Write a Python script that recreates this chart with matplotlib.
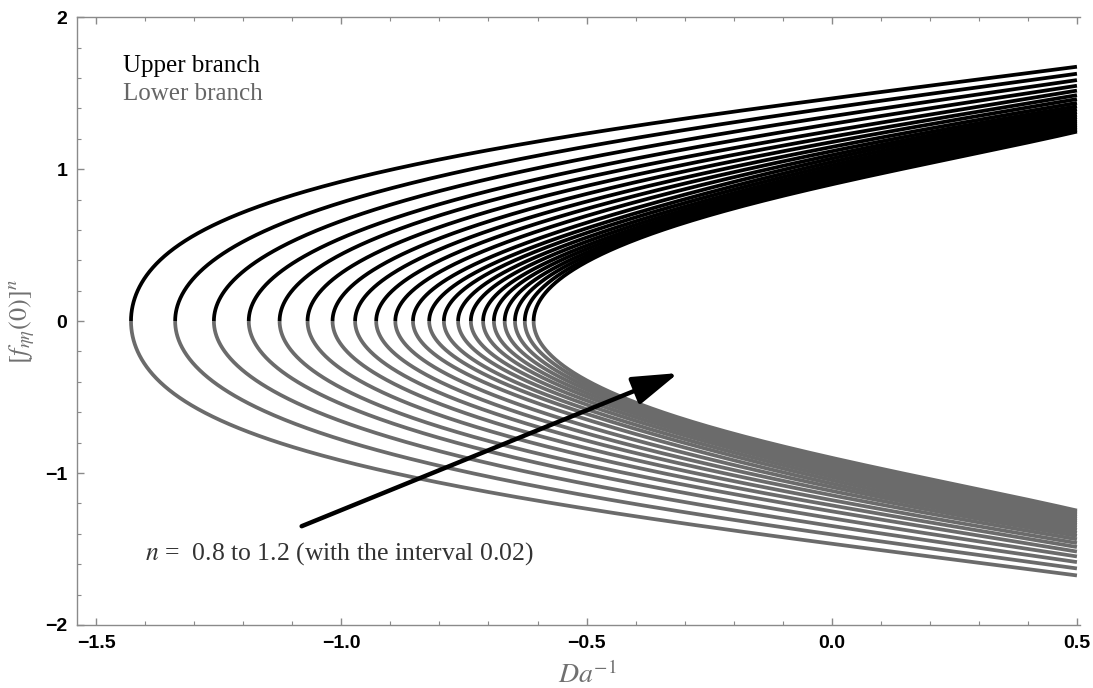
"""Upper and lower branch solutions of [f''(0)]^n against Da^-1 for n = 0.8 ... 1.2."""

import numpy as np
import matplotlib
matplotlib.use("Agg")
import matplotlib.pyplot as plt

# power-law index of every curve (outermost first)
N_VALUES = [0.80, 0.82, 0.84, 0.86, 0.88, 0.90, 0.92, 0.94, 0.96, 0.98, 1.00,
            1.02, 1.04, 1.06, 1.08, 1.10, 1.12, 1.14, 1.16, 1.18, 1.20]

# turning point (Da^-1 where both branches meet at 0)
VERTEX_X = [-1.429, -1.339, -1.260, -1.189, -1.126, -1.069, -1.018, -0.972, -0.929, -0.890, -0.854,
            -0.821, -0.791, -0.762, -0.736, -0.711, -0.689, -0.667, -0.646, -0.626, -0.608]

# upper branch value read at several Da^-1 (None: curve not there yet)
_ = None
Y_AT_M13 = [0.58, _, _, _, _, _, _, _, _, _, _, _, _, _, _, _, _, _, _, _, _]
Y_AT_M12 = [0.73, 0.50, _, _, _, _, _, _, _, _, _, _, _, _, _, _, _, _, _, _, _]
Y_AT_M11 = [0.83, 0.67, 0.50, 0.28, _, _, _, _, _, _, _, _, _, _, _, _, _, _, _, _, _]
Y_AT_M10 = [0.905, 0.78, 0.66, 0.55, 0.44, 0.31, 0.15, _, _, _, _, _, _, _, _, _, _, _, _, _, _]
Y_AT_M08 = [1.058, 0.96, 0.87, 0.79, 0.72, 0.65, 0.58, 0.51, 0.44, 0.36, 0.26, 0.12,
            _, _, _, _, _, _, _, _, _]
Y_AT_M05 = [1.240, 1.147, 1.066, 0.992, 0.926, 0.868, 0.815, 0.767, 0.722, 0.682, 0.645,
            0.611, 0.580, 0.550, 0.523, 0.497, 0.474, 0.451, 0.430, 0.409, 0.390]
Y_AT_00 = [1.465, 1.403, 1.349, 1.300, 1.257, 1.218, 1.183, 1.150, 1.121, 1.094, 1.070,
           1.047, 1.026, 1.006, 0.988, 0.971, 0.956, 0.941, 0.927, 0.912, 0.900]
Y_AT_05 = [1.674, 1.628, 1.586, 1.549, 1.517, 1.487, 1.461, 1.436, 1.414, 1.394, 1.375,
           1.358, 1.342, 1.327, 1.314, 1.301, 1.289, 1.278, 1.267, 1.257, 1.247]
X_LEVELS = [-1.3, -1.2, -1.1, -1.0, -0.8, -0.5, 0.0, 0.5]
Y_LEVELS = [Y_AT_M13, Y_AT_M12, Y_AT_M11, Y_AT_M10, Y_AT_M08, Y_AT_M05, Y_AT_00, Y_AT_05]

UPPER_COLOR = "black"
LOWER_COLOR = "#6b6b6b"
SERIF = ["Liberation Serif", "DejaVu Serif"]

fig = plt.figure(figsize=(10.93, 6.88), dpi=100)
ax = fig.add_axes([0.0705, 0.0916, 0.9175, 0.8834])

for i, n in enumerate(N_VALUES):
    # points of this curve as (y, x), vertex first
    ys = [0.0]
    xs = [VERTEX_X[i]]
    for xl, col in zip(X_LEVELS, Y_LEVELS):
        if col[i] is not None:
            ys.append(col[i])
            xs.append(xl)
    ys = np.array(ys)
    xs = np.array(xs)
    # smooth curve through the read points: x as a polynomial in y^2 (vertical tangent at 0)
    deg = min(3, len(ys) - 1)
    w = np.ones(len(ys))
    w[0] = 20.0
    w[-1] = 20.0
    coef = np.polyfit(ys ** 2, xs, deg, w=w)
    yy = np.linspace(0, ys[-1], 400)
    xx = np.polyval(coef, yy ** 2)
    xx[-1] = 0.5
    ax.plot(xx, yy, color=UPPER_COLOR, lw=2.7, solid_capstyle="butt", zorder=3)
    ax.plot(xx, -yy, color=LOWER_COLOR, lw=2.7, solid_capstyle="butt", zorder=2)

# arrow showing increasing n
ax.annotate("", xy=(-0.313, -0.342), xytext=(-1.081, -1.35),
            arrowprops=dict(arrowstyle="-|>,head_length=0.7,head_width=0.22", color="black",
                            lw=3.2, mutation_scale=40, shrinkA=0, shrinkB=0), zorder=5)

ax.text(-1.400, -1.572, r"$n$ =  0.8 to 1.2 (with the interval 0.02)", fontsize=18.5,
        family=SERIF, color="#333333", math_fontfamily="stix")
ax.text(-1.445, 1.638, "Upper branch", fontsize=18, family=SERIF, color="black")
ax.text(-1.445, 1.454, "Lower branch", fontsize=18, family=SERIF, color="#666666")

# axes styling
ax.set_xlim(-1.539, 0.506)
ax.set_ylim(-2, 2)
ax.set_xticks([-1.5, -1.0, -0.5, 0.0, 0.5])
ax.set_xticklabels(["\u22121.5", "\u22121.0", "\u22120.5", "0.0", "0.5"])
ax.set_yticks([-2, -1, 0, 1, 2])
ax.set_yticklabels(["\u22122", "\u22121", "0", "1", "2"])
ax.set_xticks(np.arange(-1.5, 0.55, 0.1), minor=True)
ax.set_yticks(np.arange(-2, 2.05, 0.2), minor=True)
ax.spines["right"].set_visible(False)
for s in ["left", "bottom", "top"]:
    ax.spines[s].set_color("#8a8a8a")
    ax.spines[s].set_linewidth(1.0)
ax.tick_params(which="both", direction="in", top=True, color="#8a8a8a")
ax.tick_params(which="major", length=5, width=1.0, pad=7)
ax.tick_params(which="minor", length=3, width=0.8)
for lab in ax.get_xticklabels() + ax.get_yticklabels():
    lab.set_fontfamily(["Liberation Sans", "DejaVu Sans"])
    lab.set_fontweight("bold")
    lab.set_fontsize(14)

ax.set_xlabel(r"$Da^{-1}$", fontsize=20, color="#707070", math_fontfamily="stix", labelpad=0)
ax.xaxis.set_label_coords(0.509, -0.06, transform=ax.transAxes)
ax.xaxis.label.set_va("top")
ax.set_ylabel(r"$[f_{\eta\eta}(0)]^{n}$", fontsize=19, color="#707070", math_fontfamily="stix",
              labelpad=6)

fig.savefig("out.png", dpi=100)
